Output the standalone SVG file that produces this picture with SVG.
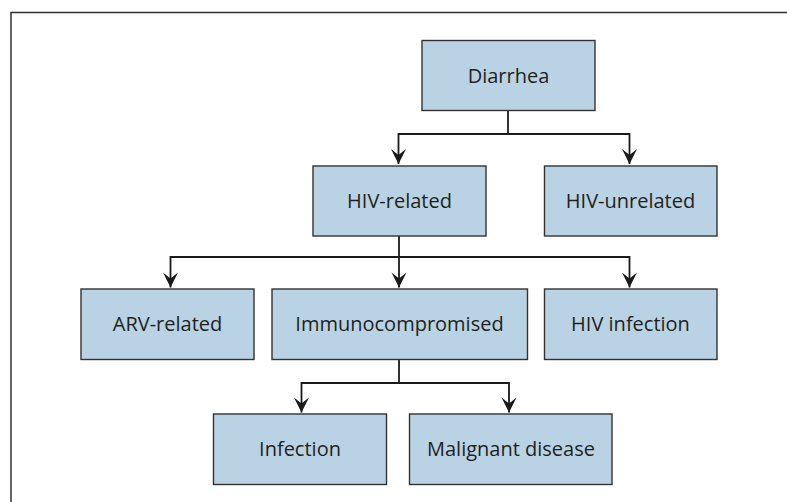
<svg xmlns="http://www.w3.org/2000/svg" width="787" height="502" viewBox="0 0 787 502">
<defs>
<style>
.box{fill:#b9d3e4;stroke:#333333;stroke-width:1.4}
.lbl{font-family:"Open Sans","Noto Sans",sans-serif;font-size:20px;fill:#231f20;text-anchor:middle}
.conn{fill:none;stroke:#1a1a1a;stroke-width:1.8}
.frame{fill:none;stroke:#333333;stroke-width:1.5}
</style>
<marker id="arr" markerUnits="userSpaceOnUse" markerWidth="20" markerHeight="20" viewBox="-16 -10 20 20" refX="0" refY="0" orient="auto">
<path d="M0,0 L-15,-7.5 L-9,0 L-15,7.5 Z" fill="#1a1a1a"/>
</marker>
</defs>
<rect width="787" height="502" fill="#ffffff"/>
<path class="frame" d="M11,502 V12.5 H787"/>
<g id="connectors">
<path class="conn" d="M508,110.5 V134"/>
<path class="conn" d="M508,134 H398.5 V164" marker-end="url(#arr)"/>
<path class="conn" d="M508,134 H629.5 V164" marker-end="url(#arr)"/>
<path class="conn" d="M399,236 V257"/>
<path class="conn" d="M399,257 H170.5 V287.5" marker-end="url(#arr)"/>
<path class="conn" d="M399,257 V287.5" marker-end="url(#arr)"/>
<path class="conn" d="M399,257 H629.5 V287.5" marker-end="url(#arr)"/>
<path class="conn" d="M399,359.5 V383"/>
<path class="conn" d="M399,383 H301.5 V412.5" marker-end="url(#arr)"/>
<path class="conn" d="M399,383 H509 V412.5" marker-end="url(#arr)"/>
</g>
<g id="n-diarrhea">
<rect class="box" x="422" y="40.5" width="173" height="70"/>
<text class="lbl" x="508.5" y="83">Diarrhea</text>
</g>
<g id="n-hiv-related">
<rect class="box" x="313" y="166" width="173" height="70"/>
<text class="lbl" x="399.5" y="208">HIV-related</text>
</g>
<g id="n-hiv-unrelated">
<rect class="box" x="544.5" y="166" width="172.5" height="70"/>
<text class="lbl" x="630.5" y="208">HIV-unrelated</text>
</g>
<g id="n-arv">
<rect class="box" x="81" y="289" width="173" height="70.5"/>
<text class="lbl" x="167.5" y="331">ARV-related</text>
</g>
<g id="n-immuno">
<rect class="box" x="272" y="289" width="255.5" height="70.5"/>
<text class="lbl" x="399.5" y="331">Immunocompromised</text>
</g>
<g id="n-hiv-infection">
<rect class="box" x="544.5" y="289" width="172.5" height="70.5"/>
<text class="lbl" x="630.5" y="331">HIV infection</text>
</g>
<g id="n-infection">
<rect class="box" x="213.5" y="414" width="173" height="70.5"/>
<text class="lbl" x="300" y="456">Infection</text>
</g>
<g id="n-malignant">
<rect class="box" x="409.5" y="414" width="202.5" height="70.5"/>
<text class="lbl" x="511" y="456">Malignant disease</text>
</g>
</svg>
